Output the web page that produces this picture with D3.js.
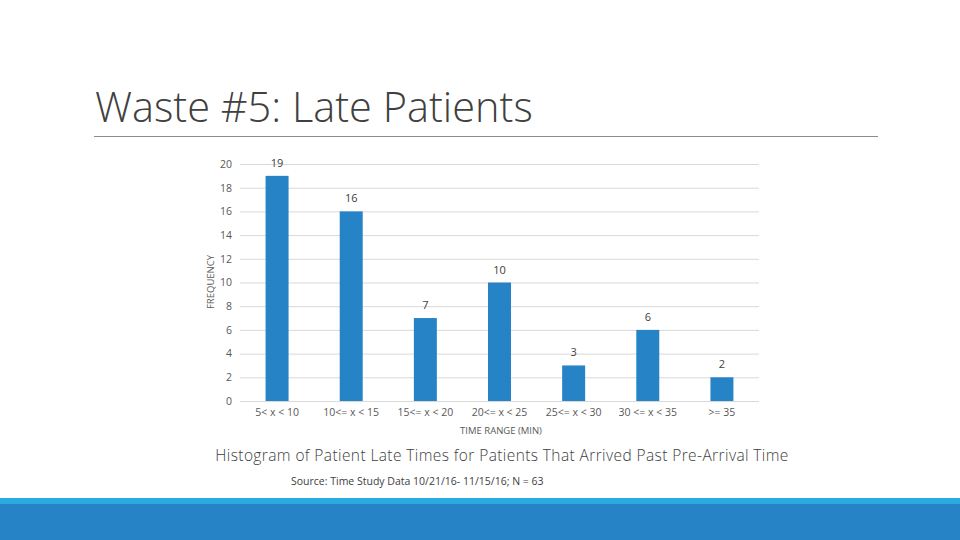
<!DOCTYPE html>
<html>
<head>
<meta charset="utf-8">
<script src="https://cdn.jsdelivr.net/npm/d3@7"></script>
<style>
  body { margin: 0; background: #fff; }
  svg { display: block; }
</style>
</head>
<body>
<div id="d3"></div>
<script>
const categories = ["5< x < 10", "10<= x < 15", "15<= x < 20", "20<= x < 25", "25<= x < 30", "30 <= x < 35", ">= 35"];
const frequencies = [19, 16, 7, 10, 3, 6, 2];
const yTicks = [0, 2, 4, 6, 8, 10, 12, 14, 16, 18, 20];

const width = 960;
const height = 540;

const svg = d3.select("#d3")
  .append("svg")
  .attr("width", width)
  .attr("height", height);

// ------------
// TITLE
// ------------
svg.append("text")
  .attr("x", 95)
  .attr("y", 122)
  .attr("font-family", "Open Sans")
  .attr("font-weight", 300)
  .attr("font-size", 41.5)
  .attr("fill", "#404040")
  .text("Waste #5: Late Patients");

svg.append("line")
  .attr("x1", 94).attr("x2", 878)
  .attr("y1", 136.5).attr("y2", 136.5)
  .attr("stroke", "#8c8c8c")
  .attr("stroke-width", 1.2);

// ------------
// SCALES
// ------------
const x = d3.scaleBand()
  .domain(categories)
  .range([240, 759])
  .paddingInner(0.69)
  .paddingOuter(0.345);

const y = d3.scaleLinear()
  .domain([0, 20])
  .range([401, 164]);

// gridlines
svg.append("g")
  .selectAll("line")
  .data(yTicks)
  .enter()
  .append("line")
  .attr("x1", 240).attr("x2", 759)
  .attr("y1", (d) => y(d) + 0.5)
  .attr("y2", (d) => y(d) + 0.5)
  .attr("stroke", "#d9d9d9")
  .attr("stroke-width", 1);

// y axis labels
const yAxis = d3.axisLeft(y).tickValues(yTicks).tickSize(0).tickPadding(8);
const gy = svg.append("g")
  .attr("transform", "translate(240,0)")
  .call(yAxis);
gy.select(".domain").remove();
gy.selectAll("text")
  .attr("font-family", "Open Sans")
  .attr("font-size", 10.5)
  .attr("fill", "#595959");

// x axis labels
const xAxis = d3.axisBottom(x).tickSize(0).tickPadding(8);
const gx = svg.append("g")
  .attr("transform", "translate(0,401)")
  .call(xAxis);
gx.select(".domain").remove();
gx.selectAll("text")
  .attr("font-family", "Open Sans")
  .attr("font-size", 10.5)
  .attr("fill", "#595959");

// ------------
// BARS
// ------------
svg.append("g")
  .selectAll("rect")
  .data(frequencies)
  .enter()
  .append("rect")
  .attr("x", (d, i) => x(categories[i]))
  .attr("y", (d) => y(d))
  .attr("width", x.bandwidth())
  .attr("height", (d) => y(0) - y(d))
  .attr("fill", "#2683c6");

svg.append("g")
  .selectAll("text")
  .data(frequencies)
  .enter()
  .append("text")
  .attr("x", (d, i) => x(categories[i]) + x.bandwidth() / 2)
  .attr("y", (d) => y(d) - 9)
  .attr("text-anchor", "middle")
  .attr("font-family", "Open Sans")
  .attr("font-size", 11)
  .attr("fill", "#404040")
  .text((d) => d);

// axis titles
svg.append("text")
  .attr("transform", "translate(214,282) rotate(-90)")
  .attr("text-anchor", "middle")
  .attr("font-family", "Open Sans")
  .attr("font-size", 9.5)
  .attr("fill", "#595959")
  .text("FREQUENCY");

svg.append("text")
  .attr("x", 501)
  .attr("y", 434)
  .attr("text-anchor", "middle")
  .attr("font-family", "Open Sans")
  .attr("font-size", 9.5)
  .attr("fill", "#595959")
  .text("TIME RANGE (MIN)");

// captions
svg.append("text")
  .attr("x", 502)
  .attr("y", 461)
  .attr("text-anchor", "middle")
  .attr("font-family", "Open Sans")
  .attr("font-weight", 300)
  .attr("font-size", 15.5)
  .attr("letter-spacing", 0.4)
  .attr("fill", "#404040")
  .text("Histogram of Patient Late Times for Patients That Arrived Past Pre-Arrival Time");

svg.append("text")
  .attr("x", 291)
  .attr("y", 485)
  .attr("font-family", "Open Sans")
  .attr("font-size", 10.5)
  .attr("fill", "#404040")
  .text("Source: Time Study Data 10/21/16- 11/15/16; N = 63");

// ------------
// FOOTER BANDS
// ------------
svg.append("rect")
  .attr("x", 0).attr("y", 498)
  .attr("width", width).attr("height", 7)
  .attr("fill", "#29abe2");
svg.append("rect")
  .attr("x", 0).attr("y", 504)
  .attr("width", width).attr("height", 36)
  .attr("fill", "#2683c6");
</script>
</body>
</html>
